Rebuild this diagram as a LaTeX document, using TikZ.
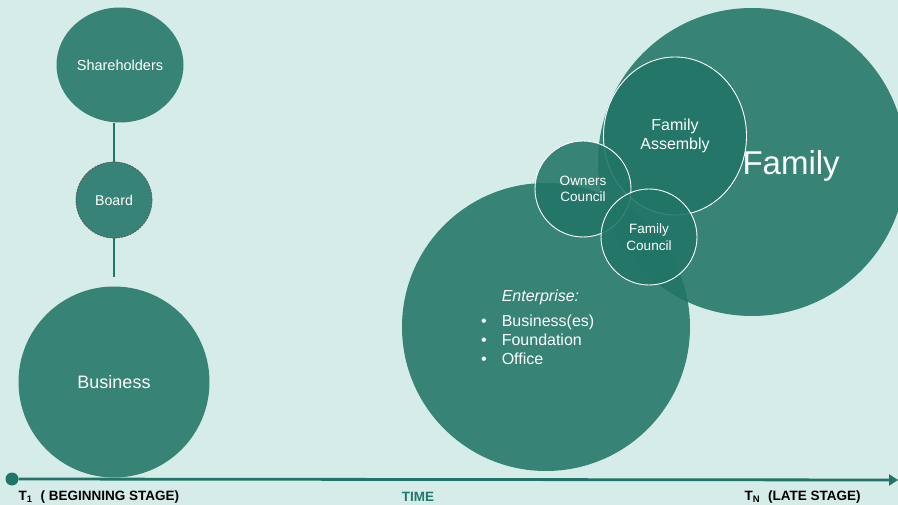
\documentclass[tikz,border=0pt]{standalone}
\usepackage{fontspec}
\setmainfont{Liberation Sans}
\usepackage{xcolor}
\usetikzlibrary{arrows.meta, positioning, shapes.geometric}

\definecolor{paper}{HTML}{D6ECE9}
\definecolor{teal}{HTML}{217567}
\definecolor{tealtext}{HTML}{1E7A6C}

\begin{document}
\begin{tikzpicture}[x=1pt, y=-1pt,
  bubble/.style={circle, fill=teal, fill opacity=0.88, text opacity=1, text=white, inner sep=0pt, align=center},
  ring/.style={bubble, draw=white, line width=0.9pt},
  link/.style={draw=teal, line width=1.3pt},
  stage/.style={font=\bfseries\fontsize{13.5}{16}\selectfont}]
\fill[paper] (0,0) rectangle (898,505);
\useasboundingbox (0,0) rectangle (898,505);

% early stage column
\node[bubble, ellipse, minimum width=127pt, minimum height=115pt, font=\fontsize{14.5}{17}\selectfont] (share) at (120,65) {Shareholders};
\node[bubble, fill opacity=1, fill=teal!88!paper, minimum size=76pt, draw=gray!70!black, dashed, dash pattern=on 2pt off 1pt, line width=0.8pt, font=\fontsize{14.2}{17}\selectfont] (board) at (114,200) {Board};
\node[bubble, minimum size=191pt, font=\fontsize{18}{21}\selectfont] (biz) at (114,382) {Business};
\draw[link] (board.north) -- (board.north |- share.south);
\draw[link, shorten >=9pt] (board.south) -- (biz.north);

% late stage cluster
\node[bubble, minimum size=288pt] (enter) at (546,327) {};
\node[bubble, minimum size=308pt] (family) at (752,162) {};
\node[ring, ellipse, minimum width=143pt, minimum height=158pt, font=\fontsize{16}{19}\selectfont] (assembly) at (675,136) {Family\\Assembly};
\node[ring, minimum size=96pt, font=\fontsize{13.5}{16.5}\selectfont] (owners) at (583,189) {Owners\\Council};
\node[ring, minimum size=96pt, font=\fontsize{13.5}{16.5}\selectfont] (fcouncil) at (649,237) {Family\\Council};
\node[text=white, font=\fontsize{33}{38}\selectfont, anchor=west] (famlabel) at (739,166) {Family};
\node[text=white, font=\fontsize{16}{19}\selectfont, anchor=north west, inner sep=0pt] (entlist) at (481,288) {%
  \begin{tabular}{@{}l@{\hspace{15pt}}l@{}}
    & \textit{Enterprise:}\\[6pt]
    \textbullet & Business(es)\\
    \textbullet & Foundation\\
    \textbullet & Office
  \end{tabular}};

% time axis
\node[circle, fill=teal, minimum size=13pt, inner sep=0pt] (start) at (12,479) {};
\coordinate (stop) at (898,480);
\draw[teal, line width=2.8pt, -{Triangle[length=9pt, width=11pt]}] (start) -- (stop);

\node[stage, anchor=west] (early) at (15,497) {T\textsubscript{1}\hspace{8pt}( BEGINNING STAGE)};
\node[stage, text=tealtext] (time) at (418,497) {TIME};
\node[stage, anchor=west] (late) at (741,497) {T\textsubscript{N}\hspace{8pt}(LATE STAGE)};
\end{tikzpicture}
\end{document}
